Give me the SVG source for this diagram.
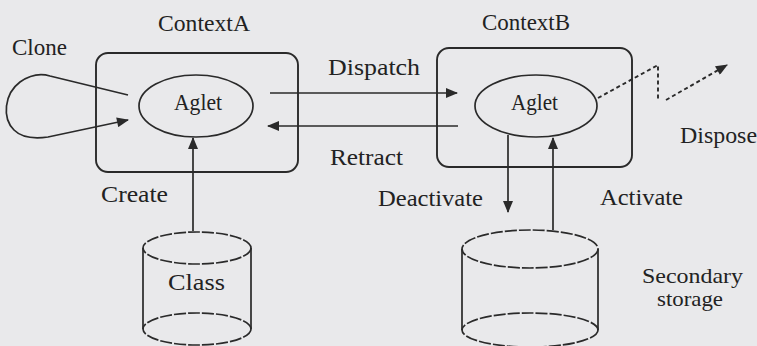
<svg xmlns="http://www.w3.org/2000/svg" width="757" height="346" viewBox="0 0 757 346">
<style>
.bg{fill:#e9e9eb}
.ln{fill:none;stroke:#2a2a2a;stroke-width:1.7}
.box{fill:none;stroke:#2a2a2a;stroke-width:1.9}
.dash{fill:none;stroke:#2a2a2a;stroke-width:1.7;stroke-dasharray:12 2}
.dot{fill:none;stroke:#2a2a2a;stroke-width:1.9;stroke-dasharray:4 3}
text{font-family:"Liberation Serif","Times New Roman",serif;font-size:24px;fill:#222}
.c{text-anchor:middle}
</style>
<defs>
<marker id="ah" viewBox="0 0 12 10" refX="11" refY="5" markerWidth="13" markerHeight="10" markerUnits="userSpaceOnUse" orient="auto">
<path d="M0,0 L12,5 L0,10 Z" fill="#2a2a2a"/>
</marker>
</defs>
<rect class="bg" x="0" y="0" width="757" height="346"/>

<g id="contextA">
<rect class="box" x="96" y="53" width="202" height="119" rx="12"/>
<text x="158" y="31" textLength="92" lengthAdjust="spacingAndGlyphs">ContextA</text>
</g>
<g id="agletA">
<ellipse class="ln" cx="196" cy="106" rx="57" ry="31"/>
<text x="174" y="110" textLength="48" lengthAdjust="spacingAndGlyphs">Aglet</text>
</g>
<g id="contextB">
<rect class="box" x="437" y="48" width="195" height="119" rx="12"/>
<text x="482" y="30" textLength="88" lengthAdjust="spacingAndGlyphs">ContextB</text>
</g>
<g id="agletB">
<ellipse class="ln" cx="536" cy="106" rx="61" ry="31"/>
<text x="511" y="110" textLength="47" lengthAdjust="spacingAndGlyphs">Aglet</text>
</g>
<g id="classStore">
<path class="ln" d="M143,248 L143,329 M251,248 L251,329"/>
<ellipse class="dash" cx="197" cy="248" rx="54" ry="16"/>
<ellipse class="dash" cx="197" cy="329" rx="54" ry="16"/>
<text x="168" y="290" textLength="57" lengthAdjust="spacingAndGlyphs">Class</text>
</g>
<g id="secondaryStore">
<path class="ln" d="M462,249 L462,330 M598,249 L598,330"/>
<ellipse class="dash" cx="530" cy="249" rx="68" ry="19"/>
<ellipse class="dash" cx="530" cy="330" rx="68" ry="17"/>
<text style="font-size:22px"><tspan x="642" y="283" textLength="101" lengthAdjust="spacingAndGlyphs">Secondary</tspan><tspan x="657" y="306" textLength="66" lengthAdjust="spacingAndGlyphs">storage</tspan></text>
</g>

<g id="connectors">
<path class="ln" d="M270,93 L457,93" marker-end="url(#ah)"/>
<path class="ln" d="M458,126 L268,126" marker-end="url(#ah)"/>
<path class="ln" d="M128,95 L50,76 C40,73 30,75 20,82 C4,94 2,118 14,130 C22,138 34,139 48,137 L128,120" marker-end="url(#ah)"/>
<path class="ln" d="M193,231 L193,138" marker-end="url(#ah)"/>
<path class="ln" d="M508,135 L508,212" marker-end="url(#ah)"/>
<path class="ln" d="M553,230 L553,138" marker-end="url(#ah)"/>
<path class="dot" d="M598,98 L658,65 L658,100"/>
<path class="dot" d="M666,100 L727,65" marker-end="url(#ah)"/>
<text x="12" y="55" textLength="55" lengthAdjust="spacingAndGlyphs">Clone</text>
<text x="328" y="75" textLength="92" lengthAdjust="spacingAndGlyphs">Dispatch</text>
<text x="330" y="165" textLength="73" lengthAdjust="spacingAndGlyphs">Retract</text>
<text x="101" y="202" textLength="67" lengthAdjust="spacingAndGlyphs">Create</text>
<text x="378" y="206" textLength="105" lengthAdjust="spacingAndGlyphs">Deactivate</text>
<text x="600" y="205" textLength="83" lengthAdjust="spacingAndGlyphs">Activate</text>
<text x="680" y="143" textLength="77" lengthAdjust="spacingAndGlyphs">Dispose</text>
</g>
</svg>
